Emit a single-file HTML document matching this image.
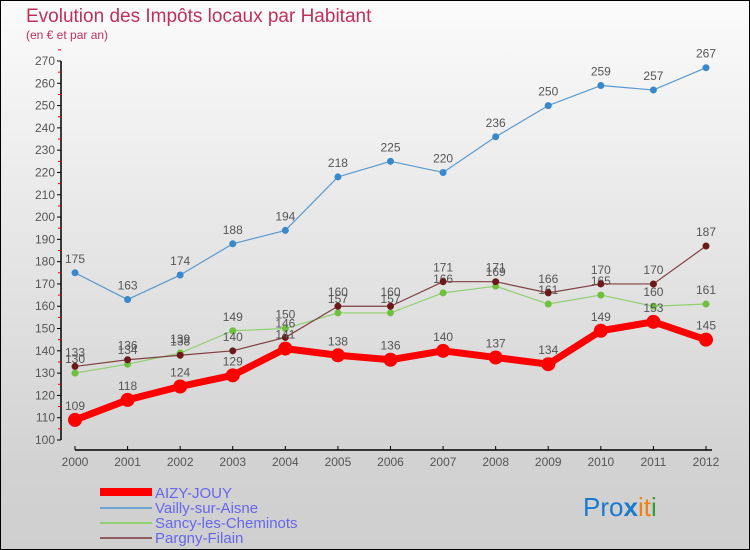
<!DOCTYPE html>
<html><head><meta charset="utf-8"><style>
body{margin:0}
#c{width:750px;height:550px;position:relative;overflow:hidden;font-family:"Liberation Sans",sans-serif}
</style></head><body>
<div id="c">
<svg id="s" width="750" height="550" xmlns="http://www.w3.org/2000/svg">
<defs><linearGradient id="bg" x1="0" y1="0" x2="0" y2="1">
<stop offset="0" stop-color="#fbfbfb"/><stop offset="0.85" stop-color="#d2d2d2"/><stop offset="1" stop-color="#cfcfcf"/></linearGradient></defs>
<rect x="0" y="0" width="750" height="550" fill="url(#bg)" stroke="#000" stroke-width="2"/>
<text x="26" y="22" font-size="19" fill="#c0305a">Evolution des Impôts locaux par Habitant</text>
<text x="26" y="39" font-size="12" fill="#c0305a">(en € et par an)</text>
<g id="axes"></g><g id="series"></g>
<g>
<rect x="100" y="488" width="52" height="8" fill="#f00"/>
<text x="155" y="498" font-size="15" fill="#6666ee">AIZY-JOUY</text>
<rect x="100" y="507" width="52" height="2" fill="#6fa4d0"/>
<text x="155" y="513" font-size="15" fill="#6666ee">Vailly-sur-Aisne</text>
<rect x="100" y="522" width="52" height="2" fill="#90d070"/>
<text x="155" y="528" font-size="15" fill="#6666ee">Sancy-les-Cheminots</text>
<rect x="100" y="537" width="52" height="2" fill="#906060"/>
<text x="155" y="543" font-size="15" fill="#6666ee">Pargny-Filain</text>
</g>
<text x="583" y="516" font-size="26"><tspan fill="#1a7ad0">Pro</tspan><tspan fill="#1a7ad0" font-weight="bold">x</tspan><tspan fill="#f08010">i</tspan><tspan fill="#f08010">t</tspan><tspan fill="#30a030">i</tspan></text>
</svg>
</div>
<script>
const years=[2000,2001,2002,2003,2004,2005,2006,2007,2008,2009,2010,2011,2012];
const yTicks=[100,110,120,130,140,150,160,170,180,190,200,210,220,230,240,250,260,270];
const aizy=[109,118,124,129,141,138,136,140,137,134,149,153,145];
const vailly=[175,163,174,188,194,218,225,220,236,250,259,257,267];
const sancy=[130,134,139,149,150,157,157,166,169,161,165,160,161];
const pargny=[133,136,138,140,146,160,160,171,171,166,170,170,187];
const NS="http://www.w3.org/2000/svg";
const X=i=>75+i*(706-75)/12;
const Y=v=>440-(v-100)*(440-61)/170;
function mk(t,a,p){const e=document.createElementNS(NS,t);for(const k in a)e.setAttribute(k,a[k]);p.appendChild(e);return e;}
const ax=document.getElementById('axes');
let l=mk('line',{x1:61,y1:61,x2:61,y2:440,stroke:'#000','stroke-width':1.5},ax);


l=mk('line',{x1:75,y1:450,x2:712,y2:450,stroke:'#000','stroke-width':1.5},ax);


yTicks.forEach(v=>{
 mk('line',{x1:57,y1:Y(v),x2:61,y2:Y(v),stroke:'#000'},ax);
 mk('line',{x1:58,y1:Y(v+5),x2:61,y2:Y(v+5),stroke:'#e00'},ax);
 const t=mk('text',{x:55,y:Y(v)+4,'font-size':12,fill:'#555','text-anchor':'end'},ax);t.textContent=v;
 
 
});
years.forEach((y,i)=>{
 mk('line',{x1:X(i),y1:446,x2:X(i),y2:450,stroke:'#000'},ax);
 const t=mk('text',{x:X(i),y:466,'font-size':12,fill:'#555','text-anchor':'middle'},ax);t.textContent=y;
 
 
});
const sg=document.getElementById('series');
function series(vals,color,dot,w,r,name){
 const g=mk('g',{},sg);
 
 
 mk('polyline',{points:vals.map((v,i)=>X(i)+','+Y(v)).join(' '),fill:'none',stroke:color,'stroke-width':w,'stroke-linejoin':'round'},g);
 vals.forEach((v,i)=>{
  const c=mk('circle',{cx:X(i),cy:Y(v),r:r,fill:dot},g);
  
  
  const t=mk('text',{x:X(i),y:Y(v)-10,'font-size':12,fill:'#555','text-anchor':'middle'},g);t.textContent=v;
 });
}
series(vailly,'#5a9ad0','#3a88cc',1.2,3.5,'series-vailly');
series(sancy,'#90d070','#70c040',1.2,3.5,'series-sancy');
series(pargny,'#804040','#6a1a1a',1.2,3.5,'series-pargny');
series(aizy,'#f00','#f00',7,7,'series-aizy');
</script>
</body></html>
